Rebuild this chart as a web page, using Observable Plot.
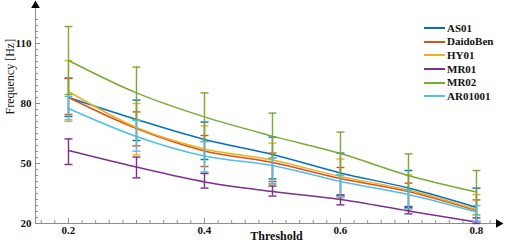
<!DOCTYPE html>
<html>
<head>
<meta charset="utf-8">
<script src="https://cdn.jsdelivr.net/npm/d3@7"></script>
<script src="https://cdn.jsdelivr.net/npm/@observablehq/plot@0.6"></script>
<style>
  html, body { margin: 0; padding: 0; background: #fff; }
  #wrap { position: relative; width: 505px; height: 245px; font-family: "Liberation Serif", "DejaVu Serif", serif; }
  #legend { position: absolute; left: 424px; top: 21.5px; font: bold 11px "Liberation Serif", serif; color: #111; }
  #legend .row { height: 13.7px; line-height: 13.7px; white-space: nowrap; }
  #legend .sw { display: inline-block; width: 21px; height: 2px; vertical-align: middle; margin-right: 2px; position: relative; top: -1px; }
</style>
</head>
<body>
<div id="wrap"><div id="legend"></div></div>
<script>
// ---- data ----
const thresholds = [0.2, 0.3, 0.4, 0.5, 0.6, 0.7, 0.8];
const seriesNames = ["AS01", "DaidoBen", "HY01", "MR01", "MR02", "AR01001"];
const seriesColors = ["#0072BD", "#D95319", "#EDB120", "#7E2F8E", "#77AC30", "#4DBEEE"];

const as01Mean  = [83, 72, 62, 54.5, 45.3, 37.7, 28];
const as01Upper = [92.7, 81.7, 70.7, 63.2, 55.2, 46.5, 37.7];
const as01Lower = [73.5, 61.5, 52, 42.3, 34.2, 28.5, 21];

const daidoMean  = [83, 67.5, 56.3, 50.5, 42.5, 36, 26.5];
const daidoUpper = [92.5, 75.8, 64, 55.2, 48, 40.2, 31.8];
const daidoLower = [74.5, 58.8, 48.5, 41, 33.5, 27.7, 21];

const hy01Mean  = [86, 68, 57.3, 51.8, 43.5, 36.8, 27];
const hy01Upper = [101.5, 80, 68.8, 60.2, 52.2, 44.3, 34.5];
const hy01Lower = [71, 54.3, 45.2, 39.5, 32.8, 26.8, 21];

const mr01Mean  = [56.5, 48.2, 40.8, 36, 32, 26.3, 20.7];
const mr01Upper = [62.3, 53.2, 45, 38.7, 34.3, 28, 22.8];
const mr01Lower = [49.5, 42.8, 37.7, 33.7, 29.3, 24.8, 20];

const mr02Mean  = [101.5, 85.3, 73.3, 63.7, 55, 44, 35.7];
const mr02Upper = [118.5, 98.2, 85.3, 75.2, 65.7, 54.8, 46.5];
const mr02Lower = [84.5, 71.8, 61, 52.7, 44.3, 36.8, 24.3];

const ar01Mean  = [77.5, 63.5, 53.7, 49, 41, 34.5, 25.7];
const ar01Upper = [83.5, 71.5, 61, 52.7, 44.3, 36.8, 29];
const ar01Lower = [71.8, 56.2, 45.8, 40, 33.5, 27.5, 21];

const xMajorTicks = [0.2, 0.4, 0.6, 0.8];
const xMinorTicks = d3.range(16, 83, 2).map(v => v / 100);
const yMajorTicks = [20, 50, 80, 110];
const yMinorTicks = d3.range(20, 123, 3);
const xDomain = [0.1515, 0.8324];
const yDomain = [20, 129];

// ---- build rows ----
const means  = [as01Mean, daidoMean, hy01Mean, mr01Mean, mr02Mean, ar01Mean];
const uppers = [as01Upper, daidoUpper, hy01Upper, mr01Upper, mr02Upper, ar01Upper];
const lowers = [as01Lower, daidoLower, hy01Lower, mr01Lower, mr02Lower, ar01Lower];
const rows = seriesNames.flatMap((s, i) => thresholds.map((t, j) => ({
  series: s, x: t, mean: means[i][j], hi: uppers[i][j], lo: lowers[i][j]
})));

const cap = { draw(ctx) { ctx.moveTo(-4, 0); ctx.lineTo(4, 0); } };
const font = "Liberation Serif";
const axisColor = "#8c8c8c";
const W = 505, H = 245, mL = 35, mR = 7, mT = 5, mB = 22;
const frameW = W - mL - mR, frameH = H - mT - mB;

const seriesMarks = seriesNames.flatMap(s => {
  const d = rows.filter(r => r.series === s);
  return [
    Plot.ruleX(d, { x: "x", y1: "lo", y2: "hi", stroke: "series", strokeWidth: 1.4 }),
    Plot.dot(d, { x: "x", y: "hi", symbol: cap, fill: "none", stroke: "series", strokeWidth: 1.4 }),
    Plot.dot(d, { x: "x", y: "lo", symbol: cap, fill: "none", stroke: "series", strokeWidth: 1.4 }),
    Plot.line(d, { x: "x", y: "mean", stroke: "series", strokeWidth: 1.5, curve: "monotone-x" })
  ];
});

const chart = Plot.plot({
  width: W, height: H,
  marginLeft: mL, marginRight: mR, marginTop: mT, marginBottom: mB,
  style: { fontFamily: font, background: "white", overflow: "visible" },
  x: { domain: xDomain, axis: null },
  y: { domain: yDomain, axis: null },
  color: { domain: seriesNames, range: seriesColors },
  marks: [
    // axis lines
    Plot.ruleY([yDomain[0]], { stroke: axisColor, strokeWidth: 1 }),
    Plot.ruleX([xDomain[0]], { stroke: axisColor, strokeWidth: 1 }),
    // ticks (inward)
    Plot.ruleX(xMinorTicks, { x: d => d, stroke: axisColor, insetTop: frameH - 3 }),
    Plot.ruleX(xMajorTicks, { x: d => d, stroke: axisColor, insetTop: frameH - 5 }),
    Plot.ruleY(yMinorTicks, { y: d => d, stroke: axisColor, insetRight: frameW - 3 }),
    Plot.ruleY(yMajorTicks, { y: d => d, stroke: axisColor, insetRight: frameW - 5 }),
    // arrowheads
    Plot.dot([0], { frameAnchor: "top-left", symbol: "triangle", r: 3.2, fill: "black", stroke: "none" }),
    Plot.dot([0], { frameAnchor: "bottom-right", symbol: "triangle", r: 3.2, fill: "black", stroke: "none", rotate: 90 }),
    // tick labels
    Plot.text(xMajorTicks, { x: d => d, frameAnchor: "bottom", dy: 10, text: d => String(d), fontSize: 11, fontWeight: "bold", fontFamily: font, fill: "#111" }),
    Plot.text(yMajorTicks, { y: d => d, frameAnchor: "left", dx: -4, textAnchor: "end", text: d => String(d), fontSize: 11, fontWeight: "bold", fontFamily: font, fill: "#111" }),
    // axis labels
    Plot.text(["Threshold"], { frameAnchor: "bottom", dx: 9.5, dy: 16, fontSize: 12, fontWeight: "bold", fontFamily: font, fill: "#111" }),
    Plot.text(["Frequency [Hz]"], { frameAnchor: "left", dx: -25, rotate: -90, fontSize: 12, fontFamily: font, fill: "#111" }),
    ...seriesMarks
  ]
});

const wrap = document.getElementById("wrap");
wrap.insertBefore(chart, wrap.firstChild);

const legend = document.getElementById("legend");
seriesNames.forEach((s, i) => {
  const row = document.createElement("div");
  row.className = "row";
  const sw = document.createElement("span");
  sw.className = "sw";
  sw.style.background = seriesColors[i];
  row.appendChild(sw);
  row.appendChild(document.createTextNode(s));
  legend.appendChild(row);
});
</script>
</body>
</html>
